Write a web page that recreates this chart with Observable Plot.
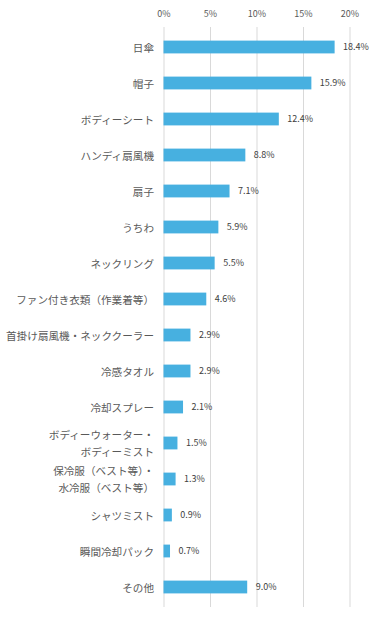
<!DOCTYPE html>
<html><head><meta charset="utf-8">
<script src="https://cdn.jsdelivr.net/npm/d3@7"></script>
<script src="https://cdn.jsdelivr.net/npm/@observablehq/plot@0.6"></script>
<style>body{margin:0;background:#fff}</style>
</head><body><div id="chart"></div>
<script>
const categories = ["日傘","帽子","ボディーシート","ハンディ扇風機","扇子","うちわ","ネックリング","ファン付き衣類（作業着等）","首掛け扇風機・ネッククーラー","冷感タオル","冷却スプレー","ボディーウォーター・\nボディーミスト","保冷服（ベスト等）・\n水冷服（ベスト等）","シャツミスト","瞬間冷却パック","その他"];
const values = [18.4,15.9,12.4,8.8,7.1,5.9,5.5,4.6,2.9,2.9,2.1,1.5,1.3,0.9,0.7,9.0];
const ticks = [0,5,10,15,20];
const data = categories.map((c,i)=>({c, v: values[i]}));
const font = "'Noto Sans CJK JP', 'Noto Sans', sans-serif";
const chart = Plot.plot({
  width: 373, height: 618,
  marginLeft: 163.5, marginRight: 23.5, marginTop: 27, marginBottom: 11,
  style: {fontFamily: font, background: "#fff"},
  x: {domain: [0,20], ticks, tickFormat: d => d + "%", axis: "top", tickSize: 0, tickPadding: 11, label: null},
  y: {domain: categories, padding: 0, axis: null},
  marks: [
    Plot.ruleX(ticks, {stroke: "#d9d9d9", strokeWidth: 1, strokeOpacity: 1}),
    Plot.barX(data, {x: "v", y: "c", fill: "#47b0e0", insetTop: 11.6, insetBottom: 11.6}),
    Plot.text(data, {x: "v", y: "c", text: d => d.v.toFixed(1) + "%", textAnchor: "start", dx: 8, fontSize: 9, fill: "#404040"}),
    Plot.text(data, {x: 0, y: "c", text: "c", textAnchor: "end", dx: -10, dy: -1, fontSize: 10.6, fill: "#595959", lineHeight: 1.6})
  ]
});
const ax = chart.querySelector("g[aria-label='x-axis tick label']");
if (ax) { ax.setAttribute("font-size", "9"); ax.setAttribute("fill", "#595959"); }
document.getElementById("chart").appendChild(chart);
</script></body></html>
